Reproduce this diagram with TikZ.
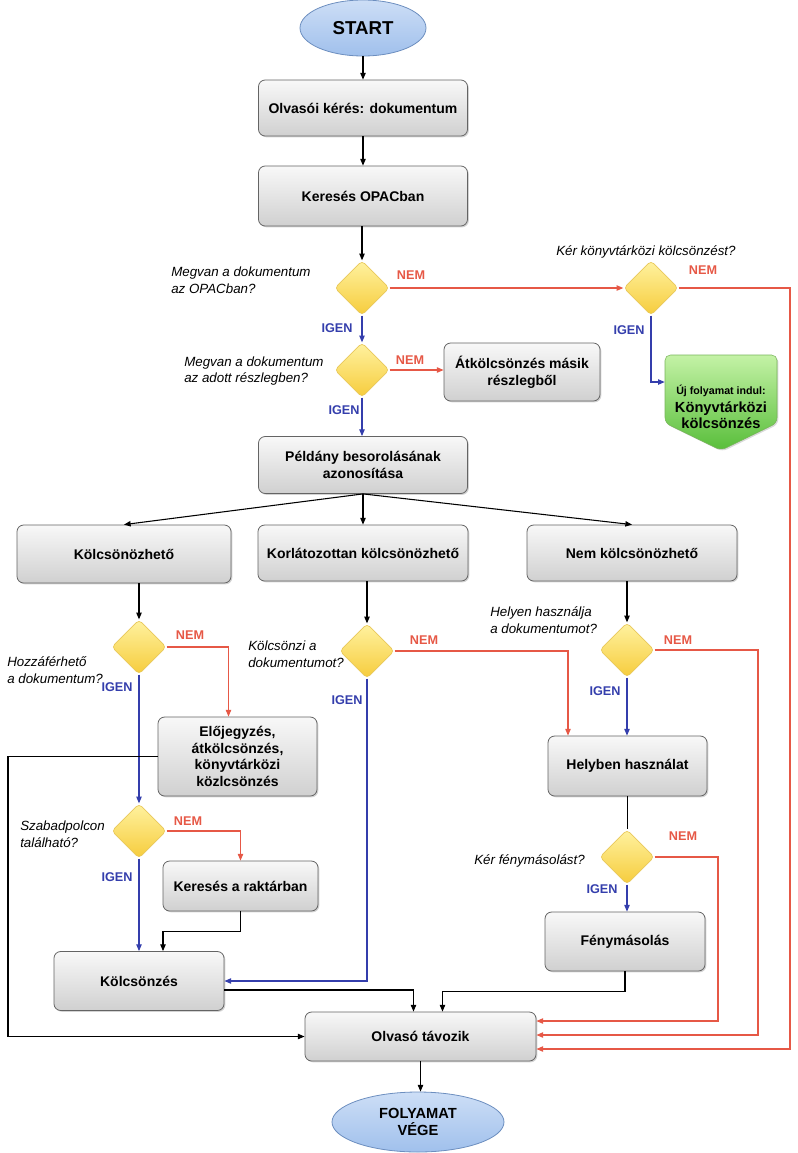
\documentclass[tikz,border=0pt]{standalone}
\usepackage{fontspec}
\setmainfont{Liberation Sans}
\usepackage{tikz}
\usetikzlibrary{shapes.geometric,shapes.symbols,arrows.meta,shadows,calc}

\definecolor{boxtop}{RGB}{248,248,248}
\definecolor{boxbot}{RGB}{208,208,208}
\definecolor{boxedge}{RGB}{100,100,100}
\definecolor{diatop}{RGB}{255,242,160}
\definecolor{diabot}{RGB}{246,204,60}
\definecolor{diaedge}{RGB}{232,200,90}
\definecolor{elltop}{RGB}{205,222,246}
\definecolor{ellbot}{RGB}{160,192,236}
\definecolor{elledge}{RGB}{108,142,191}
\definecolor{zoldtop}{RGB}{196,242,166}
\definecolor{zoldbot}{RGB}{88,190,58}
\definecolor{zoldedge}{RGB}{120,180,90}
\definecolor{nemred}{RGB}{230,88,70}
\definecolor{igenblue}{RGB}{52,62,172}

\begin{document}
\begin{tikzpicture}[x=0.75pt,y=0.75pt,yscale=-1,xscale=1,
    folybox/.style={rectangle, rounded corners=5pt, draw=boxedge, line width=0.6pt,
        top color=boxtop, bottom color=boxbot,
        drop shadow={shadow xshift=1pt, shadow yshift=-1pt, opacity=0.35},
        font=\fontsize{10.5}{12.5}\selectfont\bfseries, align=center, inner sep=2pt},
    dontes/.style={diamond, rounded corners=3pt, draw=diaedge, line width=0.5pt,
        top color=diatop, bottom color=diabot,
        minimum width=41pt, minimum height=41pt, inner sep=0pt},
    veg/.style={ellipse, draw=elledge, line width=0.6pt, top color=elltop, bottom color=ellbot,
        align=center, inner sep=0pt},
    kerdes/.style={font=\fontsize{10}{12.5}\selectfont\itshape, align=left, inner sep=0.75pt},
    nemtxt/.style={text=nemred, font=\fontsize{9.5}{11}\selectfont\bfseries, inner sep=0.75pt},
    igentxt/.style={text=igenblue, font=\fontsize{9.5}{11}\selectfont\bfseries, inner sep=0.75pt},
    nyil/.style={-{Triangle[length=5pt,width=4pt]}, line width=0.8pt},
    nemnyil/.style={nyil, draw=nemred},
    igennyil/.style={nyil, draw=igenblue}
]
    \useasboundingbox (0,0) rectangle (798,1153);

    %Shape: Ellipse
    \node [veg, minimum width=94.5pt, minimum height=42pt, font=\fontsize{14}{16}\selectfont\bfseries] (start) at (363,28) {START};
    %Shape: Rectangle
    \node [folybox, minimum width=156.75pt, minimum height=42pt] (keres) at (363,108) {Olvasói kérés: dokumentum};
    %Shape: Rectangle
    \node [folybox, minimum width=156.75pt, minimum height=45pt] (opac) at (363,196) {Keresés OPACban};
    %Shape: Diamond
    \node [dontes] (d1) at (362,288) {};
    %Shape: Diamond
    \node [dontes] (d2) at (651,288) {};
    %Shape: Signal
    \node [signal, signal to=south, signal from=nowhere, signal pointer angle=128, rounded corners=4pt,
        draw=zoldedge, top color=zoldtop, bottom color=zoldbot,
        minimum width=84pt, minimum height=51pt, inner sep=0pt,
        drop shadow={shadow xshift=1pt, shadow yshift=-1pt, opacity=0.3}] (ujf) at (721,389) {};
    % Text Node
    \node [align=center, inner sep=0.75pt, font=\bfseries] (ujtxt) at (721,407)
        {\fontsize{8}{9}\selectfont Új folyamat indul:\\[1pt]
         \fontsize{11}{13}\selectfont Könyvtárközi\\ \fontsize{11}{13}\selectfont kölcsönzés};
    %Shape: Diamond
    \node [dontes] (d3) at (362,370) {};
    %Shape: Rectangle
    \node [folybox, minimum width=117pt, minimum height=43.5pt] (atk) at (522,372) {Átkölcsönzés másik\\részlegből};
    %Shape: Rectangle
    \node [folybox, minimum width=156.75pt, minimum height=42.75pt] (pel) at (363,465) {Példány besorolásának\\azonosítása};
    %Shape: Rectangle
    \node [folybox, minimum width=160.5pt, minimum height=43.5pt] (kolcs) at (124,554) {Kölcsönözhető};
    %Shape: Rectangle
    \node [folybox, minimum width=157.5pt, minimum height=42pt] (korl) at (363,553) {Korlátozottan kölcsönözhető};
    %Shape: Rectangle
    \node [folybox, minimum width=157.5pt, minimum height=42pt] (nemk) at (632,553) {Nem kölcsönözhető};
    %Shape: Diamond
    \node [dontes] (d4) at (139,647) {};
    %Shape: Diamond
    \node [dontes] (d6) at (367,651) {};
    %Shape: Diamond
    \node [dontes] (d7) at (627,650) {};
    %Shape: Rectangle
    \node [folybox, minimum width=119.25pt, minimum height=59.25pt] (elo) at (237.5,756.5) {Előjegyzés,\\átkölcsönzés,\\könyvtárközi\\közlcsönzés};
    %Shape: Rectangle
    \node [folybox, minimum width=119.25pt, minimum height=45pt] (hely) at (627.5,766) {Helyben használat};
    %Shape: Diamond
    \node [dontes] (d5) at (139,831) {};
    %Shape: Diamond
    \node [dontes] (d8) at (627,857) {};
    %Shape: Rectangle
    \node [folybox, minimum width=116.25pt, minimum height=37.5pt] (rakt) at (240.5,886) {Keresés a raktárban};
    %Shape: Rectangle
    \node [folybox, minimum width=120pt, minimum height=44.25pt] (feny) at (625,941.5) {Fénymásolás};
    %Shape: Rectangle
    \node [folybox, minimum width=127.5pt, minimum height=44.25pt] (kolz) at (139,981) {Kölcsönzés};
    %Shape: Rectangle
    \node [folybox, minimum width=173.25pt, minimum height=36.75pt] (tav) at (420.5,1036.5) {Olvasó távozik};
    %Shape: Ellipse
    \node [veg, minimum width=129pt, minimum height=45pt, font=\fontsize{11}{13}\selectfont\bfseries] (vege) at (418,1122) {FOLYAMAT\\VÉGE};

    % side rails
    \coordinate (bal) at (8,0);
    \coordinate (jobb1) at (718,0);
    \coordinate (jobb2) at (758,0);
    \coordinate (jobb3) at (790,0);

    %Straight Lines
    \draw [nyil] (start.south) -- (keres.north);
    \draw [nyil] (keres.south) -- (opac.north);
    \draw [nyil] (d1.north |- opac.south) -- (d1.north);
    \draw [nemnyil] (d1.east) -- (d2.west);
    \draw [igennyil] (d1.south) -- (d3.north);
    \draw [nemnyil] (d2.east) -- (d2.east -| jobb3) |- ($(tav.east)+(0,12.5)$);
    \draw [igennyil] (d2.south) |- ($(ujf.west)+(0,-7)$);
    \draw [nemnyil] (d3.east) -- (d3.east -| atk.west);
    \draw [igennyil] (d3.south) -- (d3.south |- pel.north);
    \draw [nyil] (pel.south) -- (kolcs.north);
    \draw [nyil] (pel.south) -- (korl.north);
    \draw [nyil] (pel.south) -- (nemk.north);
    \draw [nyil] (d4.north |- kolcs.south) -- (d4.north);
    \draw [nyil] (d6.north |- korl.south) -- (d6.north);
    \draw [nyil] (d7.north |- nemk.south) -- (d7.north);
    \draw [nemnyil] (d4.east) -| ($(elo.north)+(-9,0)$);
    \draw [igennyil] (d4.south) -- (d5.north);
    \draw [nyil] (elo.west) -- (elo.west -| bal) |- (tav.west);
    \draw [nemnyil] (d5.east) -| (rakt.north);
    \draw [igennyil] (d5.south) -- (d5.south |- kolz.north);
    \draw [nyil] (rakt.south) -- ++(0,20) -| ($(kolz.north)+(24,0)$);
    \draw [igennyil] (d6.south) |- (kolz.east);
    \draw [nemnyil] (d6.east) -| ($(hely.north)+(-59.5,0)$);
    \draw [igennyil] (d7.south) -- (d7.south |- hely.north);
    \draw [nemnyil] (d7.east) -- (d7.east -| jobb2) |- ($(tav.east)+(0,-1.5)$);
    \draw [line width=0.8pt] (hely.south) -- (hely.south |- d8.north);
    \draw [nemnyil] (d8.east) -- (d8.east -| jobb1) |- ($(tav.east)+(0,-15.5)$);
    \draw [igennyil] (d8.south) -- (d8.south |- feny.north);
    \draw [nyil] (feny.south) -- ++(0,20) -| ($(tav.north)+(22,0)$);
    \draw [nyil] ($(kolz.east)+(0,9)$) -| ($(tav.north)+(-7,0)$);
    \draw [nyil] (tav.south) -- (tav.south |- vege.north);

    % Text Node
    \node [kerdes, anchor=west] (kerd1) at (170,280) {Megvan a dokumentum\\az OPACban?};
    \node [kerdes, anchor=west] (kerd2) at (555,252) {Kér könyvtárközi kölcsönzést?};
    \node [kerdes, anchor=west] (kerd3) at (183,371) {Megvan a dokumentum\\az adott részlegben?};
    \node [kerdes, anchor=west] (kerd4) at (6,670) {Hozzáférhető\\a dokumentum?};
    \node [kerdes, anchor=west] (kerd5) at (19,834) {Szabadpolcon\\található?};
    \node [kerdes, anchor=west] (kerd6) at (247,654) {Kölcsönzi a\\dokumentumot?};
    \node [kerdes, anchor=west] (kerd7) at (489,620) {Helyen használja\\a dokumentumot?};
    \node [kerdes, anchor=east] (kerd8) at (586,861) {Kér fénymásolást?};

    % Text Node
    \node [nemtxt] (nem1) at (411,275) {NEM};
    \node [nemtxt] (nem2) at (703,270) {NEM};
    \node [nemtxt] (nem3) at (410,360) {NEM};
    \node [nemtxt] (nem4) at (190,635) {NEM};
    \node [nemtxt] (nem5) at (424,640) {NEM};
    \node [nemtxt] (nem6) at (678,640) {NEM};
    \node [nemtxt] (nem7) at (188,821) {NEM};
    \node [nemtxt] (nem8) at (683,836) {NEM};
    % Text Node
    \node [igentxt] (igen1) at (337,328) {IGEN};
    \node [igentxt] (igen2) at (629,330) {IGEN};
    \node [igentxt] (igen3) at (344,410) {IGEN};
    \node [igentxt] (igen4) at (117,687) {IGEN};
    \node [igentxt] (igen5) at (347,700) {IGEN};
    \node [igentxt] (igen6) at (605,691) {IGEN};
    \node [igentxt] (igen7) at (117,877) {IGEN};
    \node [igentxt] (igen8) at (602,889) {IGEN};

\end{tikzpicture}
\end{document}
